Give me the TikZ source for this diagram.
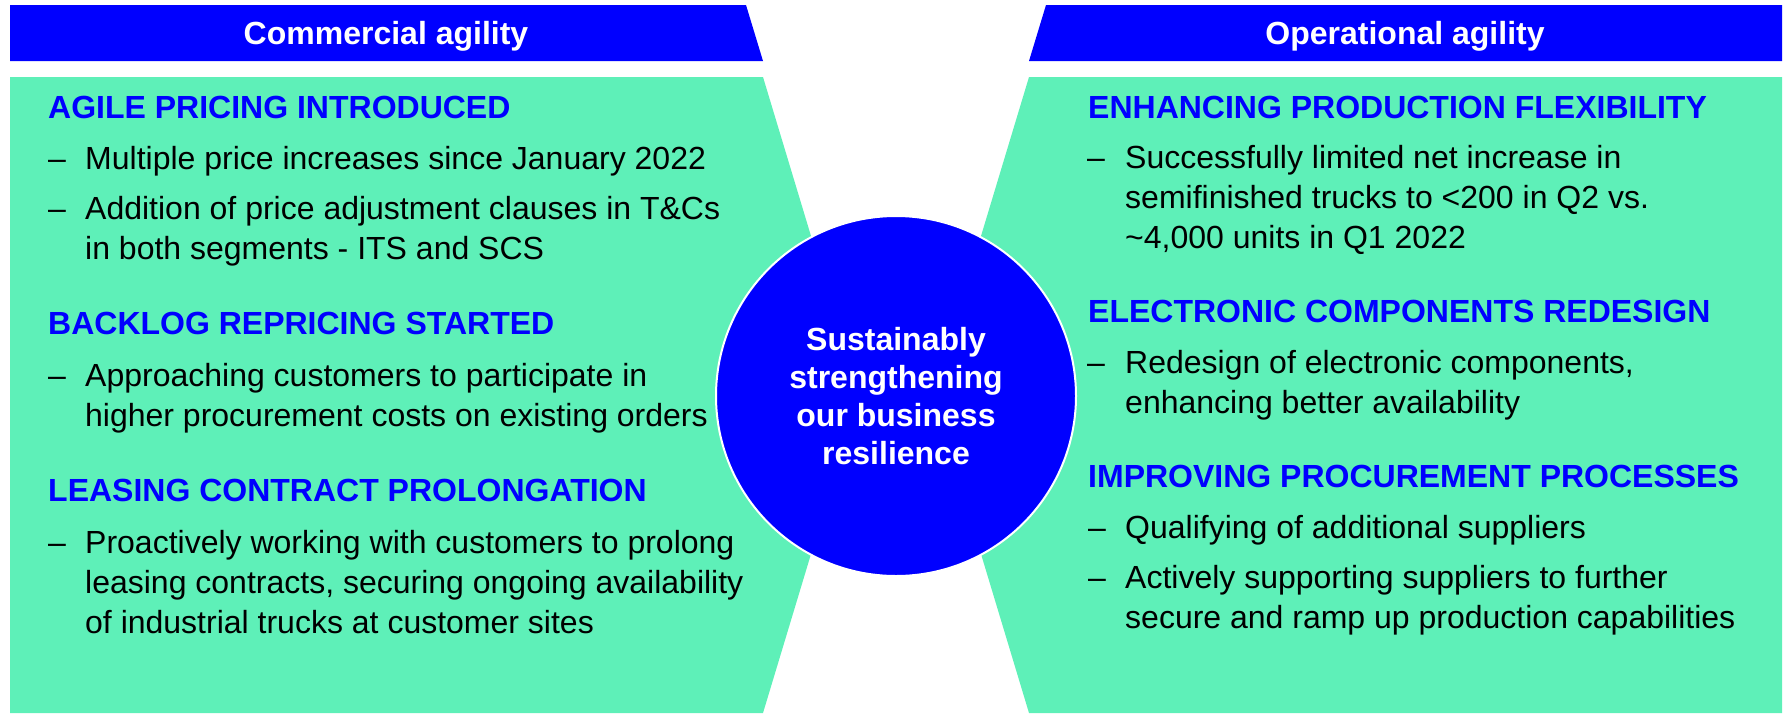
\documentclass[tikz,border=0pt]{standalone}
\usepackage{fontspec}
\setmainfont{Liberation Sans}
\usepackage{tikz,xcolor}

\definecolor{agblue}{RGB}{0,0,255}
\definecolor{agmint}{RGB}{94,240,184}

\tikzset{
  bartxt/.style={anchor=base,inner sep=0pt,text=white,font=\fontsize{32}{38}\selectfont\bfseries},
  hd/.style={anchor=base west,inner sep=0pt,text=agblue,font=\fontsize{32}{38}\selectfont\bfseries},
  txt/.style={anchor=base west,inner sep=0pt,font=\fontsize{32}{38}\selectfont},
  core/.style={circle,fill=agblue,draw=white,line width=2pt,minimum size=360pt,inner sep=0pt,
    text=white,align=center,font=\fontsize{32}{38}\selectfont\bfseries}
}

\begin{document}
\begin{tikzpicture}[x=1pt,y=-1pt]
\useasboundingbox (0,0) rectangle (1783,713);

%header bars
\fill[agblue] (10,5) -- (746,5) -- (763,61) -- (10,61) -- cycle;
\fill[agblue] (1046,5) -- (1782,5) -- (1782,61) -- (1029,61) -- cycle;
\node[bartxt] (commBar) at (386,44) {Commercial agility};
\node[bartxt] (operBar) at (1405,44) {Operational agility};

%panels
\fill[agmint] (10,77) -- (763,77) -- (859,395) -- (763,713) -- (10,713) -- cycle;
\fill[agmint] (1029,77) -- (1782,77) -- (1782,713) -- (1029,713) -- (933,395) -- cycle;

%centre
\node[core] (hub) at (896,396) {Sustainably\\strengthening\\our business\\resilience};



%left column
\node[hd] (pricingHd) at (48,118) {AGILE PRICING INTRODUCED};
\node[txt] (pricingDa) at (48,169) {--}; \node[txt] (pricingA) at (85,169) {Multiple price increases since January 2022};
\node[txt] (pricingDb) at (48,219) {--}; \node[txt] (pricingB) at (85,219) {Addition of price adjustment clauses in T\&Cs};
\node[txt] (pricingC) at (85,259) {in both segments - ITS and SCS};

\node[hd] (backlogHd) at (48,334) {BACKLOG REPRICING STARTED};
\node[txt] (backlogDa) at (48,386) {--}; \node[txt] (backlogA) at (85,386) {Approaching customers to participate in};
\node[txt] (backlogB) at (85,426) {higher procurement costs on existing orders};

\node[hd] (leasingHd) at (48,501) {LEASING CONTRACT PROLONGATION};
\node[txt] (leasingDa) at (48,553) {--}; \node[txt] (leasingA) at (85,553) {Proactively working with customers to prolong};
\node[txt] (leasingB) at (85,593) {leasing contracts, securing ongoing availability};
\node[txt] (leasingC) at (85,633) {of industrial trucks at customer sites};

%right column
\node[hd] (flexHd) at (1088,118) {ENHANCING PRODUCTION FLEXIBILITY};
\node[txt] (flexDa) at (1087,168) {--}; \node[txt] (flexA) at (1125,168) {Successfully limited net increase in};
\node[txt] (flexB) at (1125,208) {semifinished trucks to <200 in Q2 vs.};
\node[txt] (flexC) at (1125,248) {\textasciitilde 4,000 units in Q1 2022};

\node[hd] (elecHd) at (1088,322) {ELECTRONIC COMPONENTS REDESIGN};
\node[txt] (elecDa) at (1087,373) {--}; \node[txt] (elecA) at (1125,373) {Redesign of electronic components,};
\node[txt] (elecB) at (1125,413) {enhancing better availability};

\node[hd] (procHd) at (1088,487) {IMPROVING PROCUREMENT PROCESSES};
\node[txt] (procDa) at (1088,538) {--}; \node[txt] (procA) at (1125,538) {Qualifying of additional suppliers};
\node[txt] (procDb) at (1088,588) {--}; \node[txt] (procB) at (1125,588) {Actively supporting suppliers to further};
\node[txt] (procC) at (1125,628) {secure and ramp up production capabilities};

\end{tikzpicture}
\end{document}
